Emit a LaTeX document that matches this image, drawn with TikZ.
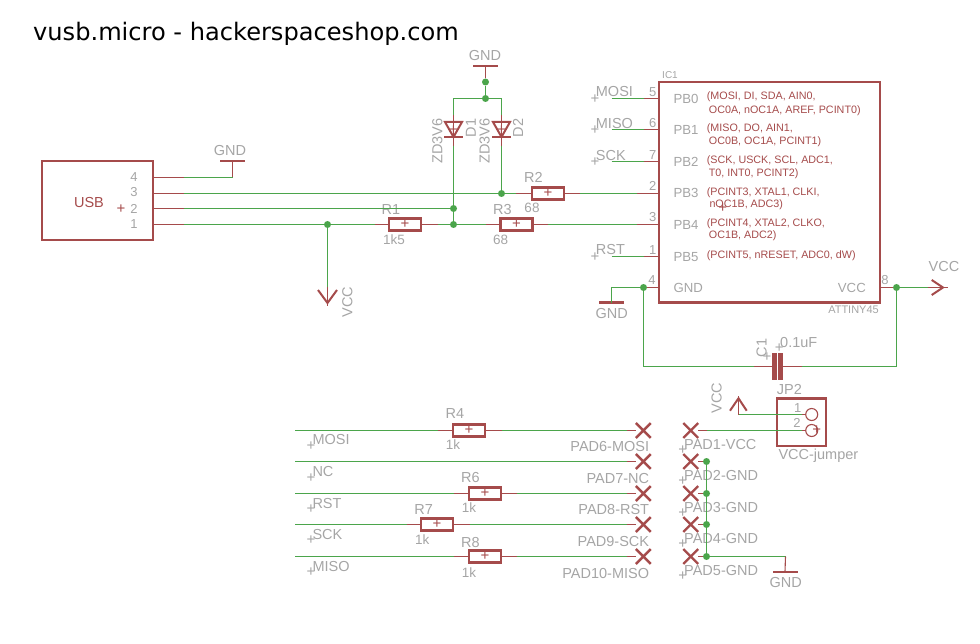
\documentclass[tikz,border=0pt]{standalone}
\usepackage{fontspec}
\setmainfont{Liberation Sans}
\newfontfamily\titlefont{DejaVu Sans}
\usetikzlibrary{shapes.misc}
\definecolor{symred}{HTML}{A54B4B}
\definecolor{netgreen}{HTML}{4BA54B}
\definecolor{labelgray}{HTML}{A5A5A5}
\tikzset{
  wire/.style={draw=netgreen, line width=1.1pt},
  lead/.style={draw=symred, line width=1.1pt},
  body/.style={rectangle, draw=symred, line width=2.5pt, inner sep=0pt},
  res node/.style={rectangle, draw=symred, line width=2.4pt, minimum width=32pt, minimum height=12pt, inner sep=0pt, text=symred, font=\fontsize{15}{15}\selectfont},
  junction/.style={circle, fill=netgreen, inner sep=0pt, minimum size=7pt},
  pad node/.style={cross out, draw=symred, line width=2.4pt, minimum size=12.5pt, inner sep=0pt},
  gnd bar/.style={rectangle, fill=symred, minimum width=25pt, minimum height=2.4pt, inner sep=0pt},
  hole/.style={circle, draw=symred, line width=1.1pt, minimum size=12pt, inner sep=0pt},
  plate/.style={rectangle, fill=symred, minimum width=4.8pt, minimum height=27pt, inner sep=0pt},
  gray text/.style={text=labelgray, inner sep=0pt, font=\fontsize{14.5}{14.5}\selectfont},
  value text/.style={text=labelgray, inner sep=0pt, font=\fontsize{13.5}{13.5}\selectfont},
  pin text/.style={text=labelgray, inner sep=0pt, font=\fontsize{13}{13}\selectfont},
  port text/.style={text=labelgray, inner sep=0pt, font=\fontsize{13.2}{13.2}\selectfont},
  red text/.style={text=symred, inner sep=0pt, anchor=west, font=\fontsize{10.75}{10.75}\selectfont},
  plus/.style={text=labelgray, inner sep=0pt, font=\fontsize{15}{15}\selectfont},
  red plus/.style={text=symred, inner sep=0pt, font=\fontsize{15}{15}\selectfont}
}
\begin{document}
\begin{tikzpicture}[x=1pt, y=-1pt]
  \useasboundingbox (0,0) rectangle (980,644);

  \node[anchor=base west, inner sep=0pt, font=\titlefont\fontsize{24.1}{24.1}\selectfont] (title) at (33,41) {vusb.micro - hackerspaceshop.com};

  % USB connector
  \node[body, minimum width=111pt, minimum height=79pt] (usb) at (97.5,200.5) {};
  \node[text=symred, inner sep=0pt, font=\fontsize{14.5}{14.5}\selectfont] (usbname) at (89,203) {USB};
  \node[red plus] (usbplus) at (121,209) {+};
  \node[pin text] (usbp4) at (134,177) {4};
  \node[pin text] (usbp3) at (134,192.5) {3};
  \node[pin text] (usbp2) at (134,208.5) {2};
  \node[pin text] (usbp1) at (134,224.5) {1};

  \coordinate (u4) at (153,177.5);
  \coordinate (u3) at (153,193.5);
  \coordinate (u2) at (153,208.5);
  \coordinate (u1) at (153,224.5);
  \coordinate (u4g) at (184,177.5);
  \coordinate (u3g) at (184,193.5);
  \coordinate (u2g) at (184,208.5);
  \coordinate (u1g) at (184,224.5);
  \coordinate (g1) at (232.5,177.5);

  % GND and VCC symbols near the connector
  \node[gnd bar] (gnd1) at (232.5,161) {};
  \node[gray text] (gnd1txt) at (230,151) {GND};
  \coordinate (vcc1) at (327.5,287);
  \coordinate (vcc1tip) at (327.5,303);
  \coordinate (vcc1end) at (327.5,306);
  \node[gray text, rotate=90] (vcc1txt) at (347.5,302) {VCC};

  % Resistors
  \node[res node] (r1) at (405,224.5) {+};
  \node[res node] (r2) at (548,193.5) {+};
  \node[res node] (r3) at (516.5,224.5) {+};
  \node[res node] (r4) at (469,430.5) {+};
  \node[res node] (r6) at (485,493.5) {+};
  \node[res node] (r7) at (437,524.5) {+};
  \node[res node] (r8) at (485,556.5) {+};
  \coordinate (r1a) at (374.5,224.5);
  \coordinate (r1b) at (437.5,224.5);
  \coordinate (r2a) at (516,193.5);
  \coordinate (r2b) at (580,193.5);
  \coordinate (r3a) at (485.5,224.5);
  \coordinate (r3b) at (548,224.5);
  \coordinate (r4a) at (437.5,430.5);
  \coordinate (r4b) at (501.5,430.5);
  \coordinate (r6a) at (453.5,493.5);
  \coordinate (r6b) at (516.5,493.5);
  \coordinate (r7a) at (406.5,524.5);
  \coordinate (r7b) at (469.5,524.5);
  \coordinate (r8a) at (453.5,556.5);
  \coordinate (r8b) at (516.5,556.5);
  \node[gray text] (r1txt) at (391,210) {R1};
  \node[value text] (r1val) at (394,240) {1k5};
  \node[gray text] (r2txt) at (533.5,177.7) {R2};
  \node[value text] (r2val) at (532,208) {68};
  \node[gray text] (r3txt) at (502.5,210) {R3};
  \node[value text] (r3val) at (500.7,240) {68};
  \node[gray text] (r4txt) at (455,414) {R4};
  \node[value text] (r4val) at (453,445) {1k};
  \node[gray text] (r6txt) at (470.3,477.7) {R6};
  \node[value text] (r6val) at (469,508) {1k};
  \node[gray text] (r7txt) at (423.7,510) {R7};
  \node[value text] (r7val) at (422.3,540) {1k};
  \node[gray text] (r8txt) at (470.3,542.3) {R8};
  \node[value text] (r8val) at (469,572.3) {1k};

  % Zener diodes
  \coordinate (d1top) at (453.5,115);
  \coordinate (d1bot) at (453.5,146);
  \coordinate (d2top) at (501.5,115);
  \coordinate (d2bot) at (501.5,146);
  \draw[symred, line width=2pt, line join=miter] (453.5,137) -- (445,122) -- (462,122) -- cycle;
  \draw[symred, line width=2pt] (444,137) -- (463,137);
  \draw[symred, line width=2pt, line join=miter] (501.5,137) -- (493,122) -- (510,122) -- cycle;
  \draw[symred, line width=2pt] (492,137) -- (511,137);
  \node[red plus] (d1plus) at (453.5,130) {+};
  \node[red plus] (d2plus) at (501.5,130) {+};
  \node[gray text, rotate=90] (d1val) at (437.5,141) {ZD3V6};
  \node[gray text, rotate=90] (d1txt) at (471,128) {D1};
  \node[gray text, rotate=90] (d2val) at (484.6,141) {ZD3V6};
  \node[gray text, rotate=90] (d2txt) at (518,128) {D2};

  \node[gnd bar] (gnd2) at (485.5,66) {};
  \node[gray text] (gnd2txt) at (485,55.7) {GND};
  \node[junction] (j1) at (485.5,82) {};
  \node[junction] (j2) at (485.5,98.5) {};
  \node[junction] (j3) at (501.5,193.5) {};
  \node[junction] (j4) at (453.5,208.5) {};
  \node[junction] (j5) at (453.5,224.5) {};
  \node[junction] (j6) at (327.5,224.5) {};
  \coordinate (d1up) at (453.5,98.5);
  \coordinate (d2up) at (501.5,98.5);

  % ATTINY45
  \node[body, minimum width=221pt, minimum height=220.5pt] (ic) at (769.5,192.5) {};
  \node[pin text, font=\fontsize{10}{10}\selectfont] (ictxt) at (670,75) {IC1};
  \node[pin text, anchor=east, font=\fontsize{11}{11}\selectfont] (icval) at (879,310) {ATTINY45};
  \node[pin text] (p5) at (652.7,91.7) {5};
  \node[pin text] (p6) at (652.7,122.7) {6};
  \node[pin text] (p7) at (652.7,154.7) {7};
  \node[pin text] (p2) at (652.7,186) {2};
  \node[pin text] (p3) at (652.7,217) {3};
  \node[pin text] (p1) at (652.7,250) {1};
  \node[pin text] (p4) at (652,280) {4};
  \node[pin text] (p8) at (885,280) {8};
  \node[port text, anchor=west] (pb0) at (673.3,98.7) {PB0};
  \node[port text, anchor=west] (pb1) at (673.3,129.7) {PB1};
  \node[port text, anchor=west] (pb2) at (673.3,161.7) {PB2};
  \node[port text, anchor=west] (pb3) at (673.3,193) {PB3};
  \node[port text, anchor=west] (pb4) at (673.3,224.7) {PB4};
  \node[port text, anchor=west] (pb5) at (673.3,256.7) {PB5};
  \node[port text, anchor=west] (pgnd) at (673.3,287.7) {GND};
  \node[port text, anchor=east] (pvcc) at (866,287.7) {VCC};
  \node[red text] (f0a) at (706.7,96.7) {(MOSI, DI, SDA, AIN0,};
  \node[red text] (f0b) at (708.7,110.3) {OC0A, nOC1A, AREF, PCINT0)};
  \node[red text] (f1a) at (706.7,129) {(MISO, DO, AIN1,};
  \node[red text] (f1b) at (708.7,141.7) {OC0B, OC1A, PCINT1)};
  \node[red text] (f2a) at (706.7,160.3) {(SCK, USCK, SCL, ADC1,};
  \node[red text] (f2b) at (708.7,173.3) {T0, INT0, PCINT2)};
  \node[red text] (f3a) at (706.7,192.3) {(PCINT3, XTAL1, CLKI,};
  \node[red text] (f3b) at (709.3,204.3) {nOC1B, ADC3)};
  \node[red text] (f4a) at (706.7,223.7) {(PCINT4, XTAL2, CLKO,};
  \node[red text] (f4b) at (708.7,236) {OC1B, ADC2)};
  \node[red text] (f5a) at (706.7,255.3) {(PCINT5, nRESET, ADC0, dW)};
  \node[red plus] (icplus) at (722.7,208.3) {+};

  \node[gray text, anchor=west] (nmosi) at (595.7,92) {MOSI};
  \node[gray text, anchor=west] (nmiso) at (595.7,124) {MISO};
  \node[gray text, anchor=west] (nsck) at (595.7,156) {SCK};
  \node[gray text, anchor=west] (nrst) at (595.7,250) {RST};
  \node[plus] (pmosi) at (595,99) {+};
  \node[plus] (pmiso) at (595,130) {+};
  \node[plus] (psck) at (595,162) {+};
  \node[plus] (prst) at (595,257) {+};

  \coordinate (w5) at (611.5,98.5);
  \coordinate (w6) at (611.5,129.5);
  \coordinate (w7) at (611.5,161.5);
  \coordinate (w1) at (611.5,256.5);
  \coordinate (l5) at (643.5,98.5);
  \coordinate (l6) at (643.5,129.5);
  \coordinate (l7) at (643.5,161.5);
  \coordinate (l2) at (637,193.5);
  \coordinate (l3) at (637,224.5);
  \coordinate (l1) at (643.5,256.5);
  \coordinate (i5) at (659,98.5);
  \coordinate (i6) at (659,129.5);
  \coordinate (i7) at (659,161.5);
  \coordinate (i2) at (659,193.5);
  \coordinate (i3) at (659,224.5);
  \coordinate (i1) at (659,256.5);
  \coordinate (i4) at (659,287.5);
  \coordinate (i8) at (880,287.5);
  \node[junction] (j7) at (643.5,287.5) {};
  \node[junction] (j8) at (896.5,287.5) {};
  \coordinate (g3) at (611.5,287.5);
  \node[gnd bar] (gnd3) at (611,302.7) {};
  \node[gray text] (gnd3txt) at (611.7,314) {GND};

  % Capacitor
  \node[plate] (c1a) at (774.4,366.5) {};
  \node[plate] (c1b) at (780.4,366.5) {};
  \coordinate (c1l) at (754,366.5);
  \coordinate (c1r) at (801.5,366.5);
  \coordinate (c1dl) at (643.5,366.5);
  \coordinate (c1dr) at (896.5,366.5);
  \node[gray text, rotate=90] (c1txt) at (761.7,348) {C1};
  \node[plus] (c1p1) at (767,357) {+};
  \node[gray text, anchor=west] (c1val) at (780,343) {0.1uF};
  \node[plus] (c1p2) at (779.3,348) {+};

  % VCC at the right
  \coordinate (vcc2) at (928,287.5);
  \coordinate (vcc2end) at (947.5,287.5);
  \node[gray text] (vcc2txt) at (944,266.7) {VCC};

  % Pads on the left
  \node[pad node] (pad6) at (643.3,430.5) {};
  \node[pad node] (pad7) at (643.3,461.5) {};
  \node[pad node] (pad8) at (643.3,493.5) {};
  \node[pad node] (pad9) at (643.3,524.5) {};
  \node[pad node] (pad10) at (643.3,556.5) {};
  \node[gray text, anchor=east] (pad6txt) at (649.3,446.7) {PAD6-MOSI};
  \node[gray text, anchor=east] (pad7txt) at (649.3,478.7) {PAD7-NC};
  \node[gray text, anchor=east] (pad8txt) at (649.3,510) {PAD8-RST};
  \node[gray text, anchor=east] (pad9txt) at (649.3,542) {PAD9-SCK};
  \node[gray text, anchor=east] (pad10txt) at (649.3,573.7) {PAD10-MISO};
  \node[gray text, anchor=west] (n6) at (312.3,439.3) {MOSI};
  \node[gray text, anchor=west] (n7) at (312.3,471.7) {NC};
  \node[gray text, anchor=west] (n8) at (312.3,504) {RST};
  \node[gray text, anchor=west] (n9) at (312.3,535) {SCK};
  \node[gray text, anchor=west] (n10) at (312.3,566.7) {MISO};
  \node[plus] (n6p) at (311,446) {+};
  \node[plus] (n7p) at (311,477.7) {+};
  \node[plus] (n8p) at (311,509.3) {+};
  \node[plus] (n9p) at (311,540) {+};
  \node[plus] (n10p) at (311,572) {+};
  \coordinate (s6) at (295,430.5);
  \coordinate (s7) at (295,461.5);
  \coordinate (s8) at (295,493.5);
  \coordinate (s9) at (295,524.5);
  \coordinate (s10) at (295,556.5);
  \coordinate (e6) at (626.5,430.5);
  \coordinate (e7) at (626.5,461.5);
  \coordinate (e8) at (626.5,493.5);
  \coordinate (e9) at (626.5,524.5);
  \coordinate (e10) at (626.5,556.5);

  % Pads on the right
  \node[pad node] (pad1) at (690.7,430.5) {};
  \node[pad node] (pad2) at (690.7,461.5) {};
  \node[pad node] (pad3) at (690.7,493.5) {};
  \node[pad node] (pad4) at (690.7,524.5) {};
  \node[pad node] (pad5) at (690.7,556.5) {};
  \node[gray text, anchor=west] (pad1txt) at (684,445) {PAD1-VCC};
  \node[gray text, anchor=west] (pad2txt) at (684,476) {PAD2-GND};
  \node[gray text, anchor=west] (pad3txt) at (684,508) {PAD3-GND};
  \node[gray text, anchor=west] (pad4txt) at (684,539) {PAD4-GND};
  \node[gray text, anchor=west] (pad5txt) at (684,571) {PAD5-GND};
  \node[plus] (pad1p) at (682.7,450) {+};
  \node[plus] (pad2p) at (682.7,481) {+};
  \node[plus] (pad3p) at (682.7,513) {+};
  \node[plus] (pad4p) at (682.7,544) {+};
  \node[plus] (pad5p) at (682.7,576) {+};
  \node[junction] (j9) at (706.5,461.5) {};
  \node[junction] (j10) at (706.5,493.5) {};
  \node[junction] (j11) at (706.5,524.5) {};
  \node[junction] (j12) at (706.5,556.5) {};
  \coordinate (pad1r) at (706.5,430.5);
  \coordinate (g4) at (785.5,556.5);
  \node[gnd bar] (gnd4) at (785,571.7) {};
  \node[gray text] (gnd4txt) at (785.7,582.7) {GND};

  % Jumper
  \node[body, minimum width=49pt, minimum height=47.7pt] (jp2) at (801.5,422.2) {};
  \node[gray text, anchor=west] (jp2txt) at (776.7,389.3) {JP2};
  \node[gray text, anchor=west] (jp2val) at (778.3,456) {VCC-jumper};
  \node[hole] (h1) at (811.7,414.5) {};
  \node[hole] (h2) at (811.7,430.5) {};
  \node[red plus] (h2p) at (816.7,430.5) {+};
  \node[pin text] (jp1) at (797.7,407.7) {1};
  \node[pin text] (jp2n) at (797,422.7) {2};
  \coordinate (h1l) at (801.5,414.5);
  \coordinate (h2l) at (801.5,430.5);
  \coordinate (vcc3) at (738.5,414.5);
  \coordinate (vcc3tip) at (738.5,398.3);
  \coordinate (vcc3top) at (738.5,396);
  \node[gray text, rotate=90] (vcc3txt) at (716.7,398.3) {VCC};

  % Wires
  \path[wire]
    (u4g) edge (g1)
    (u3g) edge (r2a)
    (u2g) edge (j4)
    (u1g) edge (r1a)
    (r1b) edge (r3a)
    (j6) edge (vcc1)
    (j1) edge (j2)
    (d1up) edge (j2)
    (j2) edge (d2up)
    (d1up) edge (d1top)
    (d2up) edge (d2top)
    (d1bot) edge (j5)
    (d2bot) edge (j3)
    (r2b) edge (l2)
    (r3b) edge (l3)
    (w5) edge (l5)
    (w6) edge (l6)
    (w7) edge (l7)
    (w1) edge (l1)
    (j7) edge (g3)
    (g3) edge (g3 |- gnd3)
    (j7) edge (c1dl)
    (c1dl) edge (c1l)
    (c1r) edge (c1dr)
    (c1dr) edge (j8)
    (j8) edge (vcc2)
    (s6) edge (r4a)
    (r4b) edge (e6)
    (s7) edge (e7)
    (s8) edge (r6a)
    (r6b) edge (e8)
    (s9) edge (r7a)
    (r7b) edge (e9)
    (s10) edge (r8a)
    (r8b) edge (e10)
    (j9) edge (j12)
    (j12) edge (g4)
    (vcc3) edge (h1l)
    (pad1r) edge (h2l);

  % Pin leads
  \path[lead]
    (u4) edge (u4g)
    (u3) edge (u3g)
    (u2) edge (u2g)
    (u1) edge (u1g)
    (g1) edge (gnd1.center)
    (j1) edge (gnd2.center)
    (vcc1) edge (vcc1end)
    (r1a) edge (r1.west)
    (r1.east) edge (r1b)
    (r3a) edge (r3.west)
    (r3.east) edge (r3b)
    (r2a) edge (r2.west)
    (r2.east) edge (r2b)
    (d1top) edge (d1bot)
    (d2top) edge (d2bot)
    (l5) edge (i5)
    (l6) edge (i6)
    (l7) edge (i7)
    (l2) edge (i2)
    (l3) edge (i3)
    (l1) edge (i1)
    (j7) edge (i4)
    (i8) edge (j8)
    (c1l) edge (c1a.center)
    (c1b.center) edge (c1r)
    (vcc2) edge (vcc2end)
    (r4a) edge (r4.west)
    (r4.east) edge (r4b)
    (r6a) edge (r6.west)
    (r6.east) edge (r6b)
    (r7a) edge (r7.west)
    (r7.east) edge (r7b)
    (r8a) edge (r8.west)
    (r8.east) edge (r8b)
    (e6) edge (pad6)
    (e7) edge (pad7)
    (e8) edge (pad8)
    (e9) edge (pad9)
    (e10) edge (pad10)
    (pad1) edge (pad1r)
    (pad2) edge (j9)
    (pad3) edge (j10)
    (pad4) edge (j11)
    (pad5) edge (j12)
    (g4) edge (gnd4.center)
    (h1l) edge (h1)
    (h2l) edge (h2)
    (vcc3) edge (vcc3top);

  % VCC arrows
  \draw[symred, line width=2pt] (318,290) -- (vcc1tip) -- (337,290);
  \draw[symred, line width=2pt] (931.7,280) -- (943,287.5) -- (931.7,295);
  \draw[symred, line width=2pt] (730,410.7) -- (vcc3tip) -- (746.7,410.7);

\end{tikzpicture}
\end{document}
